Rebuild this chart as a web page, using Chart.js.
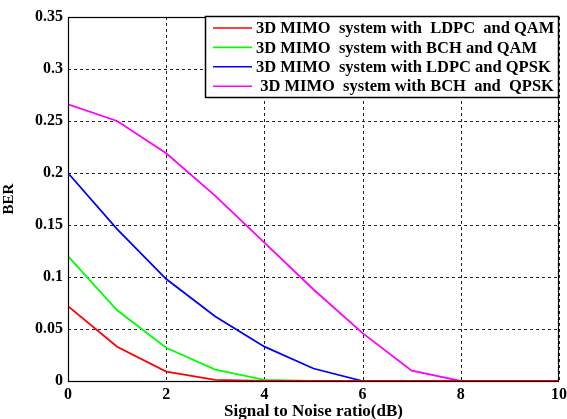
<!DOCTYPE html>
<html>
<head>
<meta charset="utf-8">
<script src="https://cdn.jsdelivr.net/npm/chart.js@4/dist/chart.umd.min.js"></script>
<style>
  html, body { margin: 0; padding: 0; background: #fff; }
  #wrap { width: 567px; height: 419px; }
</style>
</head>
<body>
<div id="wrap"><canvas id="berChart" width="567" height="419"></canvas></div>
<script>
var snr = [0, 1, 2, 3, 4, 5, 6, 7, 8, 9, 10];

var ldpcQam = [0.072, 0.033, 0.009, 0.001, 0, 0, 0, 0, 0, 0, 0];
var bchQam = [0.120, 0.068, 0.032, 0.011, 0.001, 0, 0, 0, 0, 0, 0];
var ldpcQpsk = [0.200, 0.146, 0.098, 0.062, 0.033, 0.012, 0, 0, 0, 0, 0];
var bchQpsk = [0.266, 0.250, 0.219, 0.178, 0.133, 0.088, 0.046, 0.010, 0, 0, 0];

var seriesNames = [
    "3D MIMO  system with  LDPC  and QAM",
    "3D MIMO  system with BCH and QAM",
    "3D MIMO  system with LDPC and QPSK",
    " 3D MIMO  system with BCH  and  QPSK"
];
var seriesColors = ["#ff0000", "#00ff00", "#0000ff", "#ff00ff"];

var fontFam = "'Liberation Serif', 'Times New Roman', serif";

function pontos(valores) {
    return snr.map(function (x, i) { return { x: x, y: valores[i] }; });
}

// grade tracejada desenhada a partir das escalas
var gradeTracejada = {
    id: "gradeTracejada",
    beforeDatasetsDraw: function (chart) {
        var ctx = chart.ctx;
        var a = chart.chartArea;
        var sx = chart.scales.x, sy = chart.scales.y;
        ctx.save();
        ctx.strokeStyle = "#222";
        ctx.lineWidth = 1;
        ctx.setLineDash([3, 3]);
        sx.ticks.forEach(function (t) {
            var px = Math.round(sx.getPixelForValue(t.value)) + 0.5;
            ctx.beginPath();
            ctx.moveTo(px, a.top);
            ctx.lineTo(px, a.bottom);
            ctx.stroke();
        });
        sy.ticks.forEach(function (t) {
            var py = Math.round(sy.getPixelForValue(t.value)) + 0.5;
            ctx.beginPath();
            ctx.moveTo(a.left, py);
            ctx.lineTo(a.right, py);
            ctx.stroke();
        });
        ctx.restore();
    }
};

// caixa em volta da area do grafico + legenda dentro da area
var molduraLegenda = {
    id: "molduraLegenda",
    afterDraw: function (chart) {
        var ctx = chart.ctx;
        var a = chart.chartArea;
        ctx.save();
        ctx.strokeStyle = "#000";
        ctx.lineWidth = 1.2;
        ctx.setLineDash([]);
        ctx.strokeRect(Math.round(a.left) + 0.5, Math.round(a.top) + 0.5,
            Math.round(a.right - a.left) - 1, Math.round(a.bottom - a.top));

        // legenda
        var lx = 205, ly = 16, lw = 353, lh = 81;
        ctx.fillStyle = "#fff";
        ctx.fillRect(lx, ly, lw, lh);
        ctx.lineWidth = 1.5;
        ctx.strokeRect(lx + 0.5, ly + 0.5, lw, lh);
        ctx.font = "bold 16.5px " + fontFam;
        ctx.textBaseline = "middle";
        chart.data.datasets.forEach(function (ds, i) {
            var y = ly + 12 + i * 19.4;
            ctx.strokeStyle = ds.borderColor;
            ctx.lineWidth = 1.6;
            ctx.beginPath();
            ctx.moveTo(lx + 8, y);
            ctx.lineTo(lx + 47, y);
            ctx.stroke();
            ctx.fillStyle = "#000";
            ctx.fillText(ds.label, lx + 51, y + 1);
        });
        ctx.restore();
    }
};

var datasets = [ldpcQam, bchQam, ldpcQpsk, bchQpsk].map(function (v, i) {
    return {
        label: seriesNames[i],
        data: pontos(v),
        borderColor: seriesColors[i],
        backgroundColor: "transparent",
        borderWidth: 1.8,
        pointRadius: 0,
        tension: 0
    };
});

var ctx = document.getElementById("berChart").getContext("2d");
var grafico = new Chart(ctx, {
    type: "line",
    data: { datasets: datasets },
    plugins: [gradeTracejada, molduraLegenda],
    options: {
        responsive: false,
        animation: false,
        layout: { padding: { top: 17, right: 8, left: 0, bottom: 0 } },
        plugins: {
            legend: { display: false },
            tooltip: { enabled: false }
        },
        scales: {
            x: {
                type: "linear",
                min: 0,
                max: 10,
                ticks: {
                    stepSize: 2,
                    color: "#000",
                    padding: 4,
                    font: { family: fontFam, size: 16, weight: "bold" }
                },
                grid: { display: false, drawTicks: false },
                border: { display: false },
                title: {
                    display: true,
                    text: "Signal to Noise ratio(dB)",
                    color: "#000",
                    padding: { top: 0, bottom: -3 },
                    font: { family: fontFam, size: 17, weight: "bold" }
                },
                afterFit: function (s) {
                    s.height = 38;
                    s.paddingRight = 0;
                    s.paddingLeft = 0;
                }
            },
            y: {
                min: 0,
                max: 0.35,
                ticks: {
                    stepSize: 0.05,
                    color: "#000",
                    padding: 5,
                    font: { family: fontFam, size: 16, weight: "bold" },
                    callback: function (v) { return +v.toFixed(2); }
                },
                grid: { display: false, drawTicks: false },
                border: { display: false },
                title: {
                    display: true,
                    text: "BER",
                    color: "#000",
                    padding: { top: 0, bottom: 4 },
                    font: { family: fontFam, size: 15, weight: "bold" }
                },
                afterFit: function (s) {
                    s.width = 68;
                    s.paddingTop = 0;
                    s.paddingBottom = 0;
                }
            }
        }
    }
});
</script>
</body>
</html>
